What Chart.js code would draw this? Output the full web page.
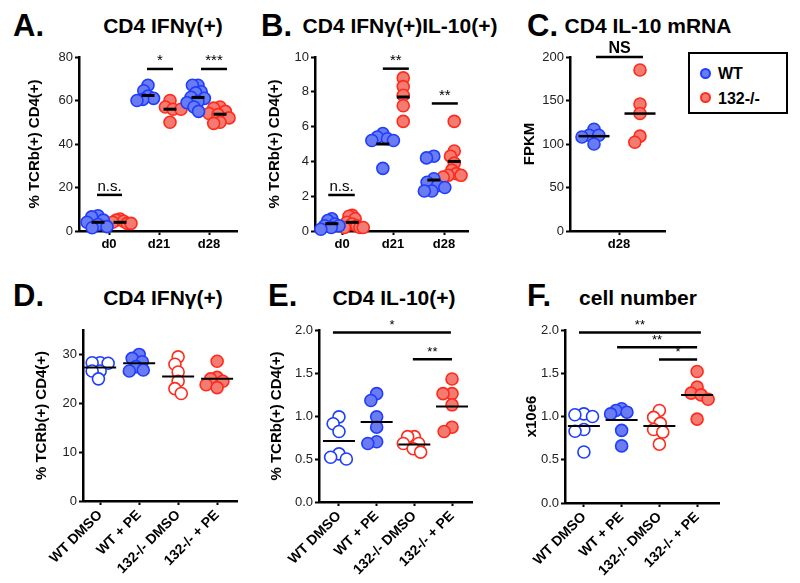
<!DOCTYPE html>
<html><head><meta charset="utf-8">
<script src="https://cdn.jsdelivr.net/npm/chart.js@4/dist/chart.umd.min.js"></script>
<style>
body{margin:0;background:#fff;width:800px;height:583px;position:relative;overflow:hidden;font-family:"Liberation Sans",Arial,sans-serif;color:#000}
.pl{position:absolute;font-weight:bold;font-size:31px;line-height:1;white-space:nowrap}
.pt{position:absolute;font-weight:bold;font-size:21px;line-height:1;white-space:nowrap;transform:translateX(-50%)}
canvas{position:absolute}
#legend{position:absolute;left:688px;top:52px;width:100px;height:62px;box-sizing:border-box;border:2px solid #000;background:#fff}
.li{position:absolute;left:0;font-weight:bold;font-size:16px;line-height:1;white-space:nowrap}
.dot{position:absolute;width:11px;height:11px;border-radius:50%;box-sizing:border-box;border:2px solid}
</style></head>
<body>
<div class="pl" style="left:13px;top:10px">A.</div>
<div class="pt" style="left:163px;top:15px">CD4 IFNγ(+)</div>
<div class="pl" style="left:261px;top:10px">B.</div>
<div class="pt" style="left:400px;top:15px">CD4 IFNγ(+)IL-10(+)</div>
<div class="pl" style="left:527px;top:10px">C.</div>
<div class="pt" style="left:648px;top:15px">CD4 IL-10 mRNA</div>
<div class="pl" style="left:13px;top:280px">D.</div>
<div class="pt" style="left:163px;top:287px">CD4 IFNγ(+)</div>
<div class="pl" style="left:268px;top:280px">E.</div>
<div class="pt" style="left:394px;top:287px">CD4 IL-10(+)</div>
<div class="pl" style="left:527px;top:280px">F.</div>
<div class="pt" style="left:638px;top:287px">cell number</div>
<div id="legend">
  <span class="dot" style="left:10px;top:14px;background:#6b7cf2;border-color:#1f3dff"></span>
  <span class="li" style="left:28px;top:12px">WT</span>
  <span class="dot" style="left:10px;top:38px;background:#f37b72;border-color:#ff2b1c"></span>
  <span class="li" style="left:28px;top:37px">132-/-</span>
</div>
<script>
// ---------------- DATA ----------------
const dayLabels = ['d0', 'd21', 'd28'];
const c28Labels = ['d28'];
const treatLabels = ['WT DMSO', 'WT + PE', '132-/- DMSO', '132-/- + PE'];
const seriesNames = ['WT', '132-/-'];

// Panel A: CD4 IFNγ(+)
const aWT = [[7, 6.5, 5, 4, 3, 2, 1.5], [67, 64.5, 62, 61, 60.5, 60], [67, 67, 64, 63.5, 61.5, 61, 59.5, 59, 57, 55]];
const aKO = [[5.5, 5, 4.5, 4, 3.5, 3.5], [60, 57, 56, 56, 50], [57, 56.5, 55, 54, 53.5, 52, 50, 49.5]];
const aWTMed = [4.0, 62.3, 61.4];
const aKOMed = [4.0, 56, 53.7];
const aTicks = [0, 20, 40, 60, 80];
const aSig = [[-0.24, 0.26, 16.6, 'n.s.'], [0.76, 1.28, 74.5, '*'], [1.84, 2.36, 74.5, '***']];

// Panel B: CD4 IFNγ(+)IL-10(+)
const bWT = [[0.7, 0.6, 0.4, 0.3, 0.3, 0.2, 0.1], [5.6, 5.4, 5.3, 5.2, 5.2, 3.6], [4.3, 4.2, 3.0, 2.8, 2.6, 2.5, 2.3, 2.3]];
const bKO = [[0.9, 0.85, 0.7, 0.5, 0.4, 0.3, 0.2, 0.2, 0.2], [8.8, 8.3, 7.8, 7.2, 6.3], [6.3, 4.6, 4.3, 3.9, 3.5, 3.3, 3.2, 3.2, 3.1]];
const bWTMed = [0.42, 5.0, 2.93];
const bKOMed = [0.5, 7.7, 4.0];
const bTicks = [0, 2, 4, 6, 8, 10];
const bSig = [[-0.27, 0.25, 2.07, 'n.s.'], [0.80, 1.31, 9.33, '**'], [1.76, 2.27, 7.33, '**']];

// Panel C: CD4 IL-10 mRNA (FPKM)
const cWT = [[117, 110, 110, 108, 100]];
const cKO = [[185, 146, 135, 109, 102]];
const cWTMed = [109];
const cKOMed = [135];
const cTicks = [0, 50, 100, 150, 200];
const cSig = [[-0.46, 0.48, 200, 'NS']];

// Panel D: CD4 IFNγ(+)
const dVals = [[28.3, 28.3, 28.2, 26.6, 26.6, 25.0], [30, 29.2, 28.5, 27.5, 26.8, 26.6], [29.5, 28, 26.4, 24.5, 23, 22], [28.6, 25.3, 25, 24.5, 23.8, 23.2]];
const dMed = [27.3, 28.2, 25.5, 25.0];
const dTicks = [0, 10, 20, 30];

// Panel E: CD4 IL-10(+)
const eVals = [[0.99, 0.91, 0.82, 0.56, 0.52, 0.50], [1.26, 1.18, 0.99, 0.87, 0.70, 0.68], [0.76, 0.76, 0.68, 0.68, 0.62, 0.58], [1.43, 1.26, 1.26, 1.13, 0.87, 0.82]];
const eMed = [0.71, 0.93, 0.67, 1.11];
const eTicks = [0, 0.5, 1.0, 1.5, 2.0];
const eSig = [[-0.16, 2.97, 1.97, '*'], [1.96, 3.0, 1.66, '**']];

// Panel F: cell number
const fVals = [[1.03, 1.02, 1.0, 0.85, 0.83, 0.59], [1.09, 1.07, 1.05, 1.03, 0.84, 0.66], [1.07, 0.99, 0.92, 0.85, 0.82, 0.68], [1.52, 1.34, 1.27, 1.25, 1.20, 0.97]];
const fMed = [0.89, 0.96, 0.89, 1.25];
const fTicks = [0, 0.5, 1.0, 1.5, 2.0];
const fSig = [[-0.13, 3.1, 1.97, '**'], [0.88, 3.0, 1.80, '**'], [1.99, 3.0, 1.66, '*']];

// ---------------- STYLE ----------------
const BLUE = {border: '#1f3dff', fill: '#6b7cf2'};
const RED = {border: '#ff2b1c', fill: '#f37b72'};
const FONT = '"Liberation Sans", Arial, sans-serif';

// beeswarm-style horizontal spread (pixel units), compressed to a maximum half-width
function swarm(vals, center, pxX, pxY, D, maxHalf) {
  const placed = [];
  const offs = new Array(vals.length);
  const order = vals.map((v, i) => i).sort((a, b) => vals[b] - vals[a]);
  for (const i of order) {
    const y = vals[i] * pxY;
    const cands = [0], ivs = [];
    for (const p of placed) {
      const dy = Math.abs(p.y - y);
      if (dy < D) { const w = Math.sqrt(D * D - dy * dy); ivs.push([p.x - w, p.x + w]); cands.push(p.x - w, p.x + w); }
    }
    cands.sort((a, b) => Math.abs(a) - Math.abs(b));
    let best = 0;
    for (const c of cands) { if (!ivs.some(([a, b]) => c > a + 1e-6 && c < b - 1e-6)) { best = c; break; } }
    placed.push({x: best, y});
    offs[i] = best;
  }
  const m = Math.max(...offs.map(Math.abs));
  const k = m > maxHalf ? maxHalf / m : 1;
  return offs.map(o => center + o * k / pxX);
}

function panel(g) {
  const padTop = 24, padRight = 14;
  const left = g.ytx - 12;
  const yw = g.x0 - left;
  const W = (g.x1 - g.x0) + yw + padRight;
  const H = padTop + (g.y1 - g.y0) + g.xh;
  const cv = document.createElement('canvas');
  cv.width = W; cv.height = H;
  cv.style.left = left + 'px'; cv.style.top = (g.y0 - padTop) + 'px';
  cv.style.width = W + 'px'; cv.style.height = H + 'px';
  document.body.appendChild(cv);
  const pxX = (g.x1 - g.x0) / (g.xmax - g.xmin);
  const pxY = (g.y1 - g.y0) / (g.ymax - 0);
  const datasets = [];
  const medians = [];
  g.groups.forEach(gr => {
    gr.vals.forEach((vals, k) => {
      const cx = k + gr.off;
      const xs = swarm(vals, cx, pxX, pxY, g.sw || 8, g.maxHalf || 12);
      datasets.push({
        label: gr.name,
        data: vals.map((v, i) => ({x: xs[i], y: v})),
        pointRadius: 6, pointHoverRadius: 6, borderWidth: 1.6,
        borderColor: gr.col.border,
        backgroundColor: gr.hollow && gr.hollow[k] ? '#ffffff' : gr.col.fill,
        clip: false
      });
      medians.push({x: cx, v: gr.med[k]});
    });
  });
  const annot = {
    id: 'annot',
    afterDatasetsDraw(chart) {
      const {ctx, scales: {x, y}} = chart;
      ctx.save();
      ctx.strokeStyle = '#000'; ctx.fillStyle = '#000'; ctx.lineCap = 'butt';
      ctx.lineWidth = g.medW;
      for (const m of medians) {
        const px = x.getPixelForValue(m.x), py = y.getPixelForValue(m.v);
        ctx.beginPath(); ctx.moveTo(px - g.medHalf, py); ctx.lineTo(px + g.medHalf, py); ctx.stroke();
      }
      ctx.lineWidth = 2.5;
      ctx.textAlign = 'center'; ctx.textBaseline = 'alphabetic';
      for (const [a, b, v, lab] of (g.sig || [])) {
        const xa = x.getPixelForValue(a), xb = x.getPixelForValue(b), py = y.getPixelForValue(v);
        ctx.beginPath(); ctx.moveTo(xa, py); ctx.lineTo(xb, py); ctx.stroke();
        ctx.font = (lab === 'NS' ? 'bold 16px ' : g.sigFont + 'px ') + FONT;
        ctx.fillText(lab, (xa + xb) / 2, py - (lab === 'NS' ? 4 : 3.5));
      }
      ctx.restore();
    }
  };
  new Chart(cv, {
    type: 'scatter',
    data: {datasets},
    plugins: [annot],
    options: {
      responsive: false, animation: false, events: [],
      layout: {padding: {top: padTop, right: padRight, left: 0, bottom: 0}},
      plugins: {legend: {display: false}, tooltip: {enabled: false}, title: {display: false}},
      scales: {
        x: {
          type: 'linear', min: g.xmin, max: g.xmax,
          afterBuildTicks: s => { s.ticks = g.cats.map((c, i) => ({value: i})); },
          afterFit: s => { s.height = g.xh; s.paddingLeft = 0; s.paddingRight = 0; },
          ticks: {
            autoSkip: false, padding: 2, color: '#000',
            maxRotation: g.rot, minRotation: g.rot,
            font: {family: FONT, size: g.xFont, weight: 'bold'},
            callback: v => g.cats[Math.round(v)]
          },
          grid: {display: true, drawOnChartArea: false, drawTicks: true, tickLength: 4, tickWidth: 2, tickColor: '#000'},
          border: {display: true, color: '#000', width: 2.5}
        },
        y: {
          type: 'linear', min: 0, max: g.ymax,
          afterBuildTicks: s => { s.ticks = g.yt.map(v => ({value: v})); },
          afterFit: s => { s.width = yw; s.paddingTop = 0; s.paddingBottom = 0; },
          ticks: {
            padding: 2, color: '#222',
            font: {family: FONT, size: 13},
            callback: v => g.dec ? v.toFixed(1) : String(v)
          },
          grid: {display: true, drawOnChartArea: false, drawTicks: true, tickLength: 4, tickWidth: 2, tickColor: '#000'},
          border: {display: true, color: '#000', width: 2.5},
          title: {display: true, text: g.ytitle, color: '#000', padding: {top: 3, bottom: 3},
                  font: {family: FONT, size: 15, weight: 'bold', lineHeight: 1.2}}
        }
      }
    }
  });
}

const yTitle = '% TCRb(+) CD4(+)';
panel({x0: 79, x1: 237, y0: 57, y1: 231, ytx: 35, xh: 26, xmin: -0.6, xmax: 2.56, ymax: 80, yt: aTicks, cats: dayLabels, rot: 0, xFont: 13,
  ytitle: yTitle, medW: 3, medHalf: 6.5, sigFont: 15, sig: aSig, maxHalf: 11,
  groups: [{name: seriesNames[0], vals: aWT, med: aWTMed, off: -0.22, col: BLUE}, {name: seriesNames[1], vals: aKO, med: aKOMed, off: 0.22, col: RED}]});
panel({x0: 315, x1: 468, y0: 57, y1: 231, ytx: 275, xh: 26, xmin: -0.53, xmax: 2.47, ymax: 10, yt: bTicks, cats: dayLabels, rot: 0, xFont: 13,
  ytitle: yTitle, medW: 3, medHalf: 6.5, sigFont: 15, sig: bSig, maxHalf: 11,
  groups: [{name: seriesNames[0], vals: bWT, med: bWTMed, off: -0.2, col: BLUE}, {name: seriesNames[1], vals: bKO, med: bKOMed, off: 0.2, col: RED}]});
panel({x0: 570, x1: 665, y0: 57, y1: 231, ytx: 530, xh: 26, xmin: -0.98, xmax: 0.92, ymax: 200, yt: cTicks, cats: c28Labels, rot: 0, xFont: 13,
  ytitle: 'FPKM', medW: 2.5, medHalf: 15.5, sigFont: 15, sig: cSig, sw: 8, maxHalf: 12,
  groups: [{name: seriesNames[0], vals: cWT, med: cWTMed, off: -0.5, col: BLUE}, {name: seriesNames[1], vals: cKO, med: cKOMed, off: 0.42, col: RED}]});

function treatGroups(vals, med) {
  const cols = [BLUE, BLUE, RED, RED];
  const hollow = [true, false, true, false];
  return vals.map((v, i) => ({name: treatLabels[i], vals: [v], med: [med[i]], off: i, col: cols[i], hollow: [hollow[i]]}));
}
panel({x0: 83, x1: 237, y0: 330, y1: 501, ytx: 42, xh: 78, xmin: -0.44, xmax: 3.51, ymax: 35, yt: dTicks, cats: treatLabels, rot: 45, xFont: 14,
  ytitle: yTitle, medW: 2, medHalf: 16, sigFont: 13, sig: [], sw: 8, maxHalf: 11,
  groups: treatGroups(dVals, dMed)});
panel({x0: 319, x1: 472, y0: 330, y1: 502, ytx: 277, xh: 78, xmin: -0.53, xmax: 3.53, ymax: 2, yt: eTicks, dec: true, cats: treatLabels, rot: 45, xFont: 14,
  ytitle: yTitle, medW: 2, medHalf: 16, sigFont: 13, sig: eSig, sw: 9, maxHalf: 11,
  groups: treatGroups(eVals, eMed)});
panel({x0: 565, x1: 719, y0: 330, y1: 503, ytx: 532, xh: 78, xmin: -0.5, xmax: 3.58, ymax: 2, yt: fTicks, dec: true, cats: treatLabels, rot: 45, xFont: 14,
  ytitle: 'x10e6', medW: 2, medHalf: 16, sigFont: 13, sig: fSig, sw: 9, maxHalf: 11,
  groups: treatGroups(fVals, fMed)});
</script>
</body></html>
